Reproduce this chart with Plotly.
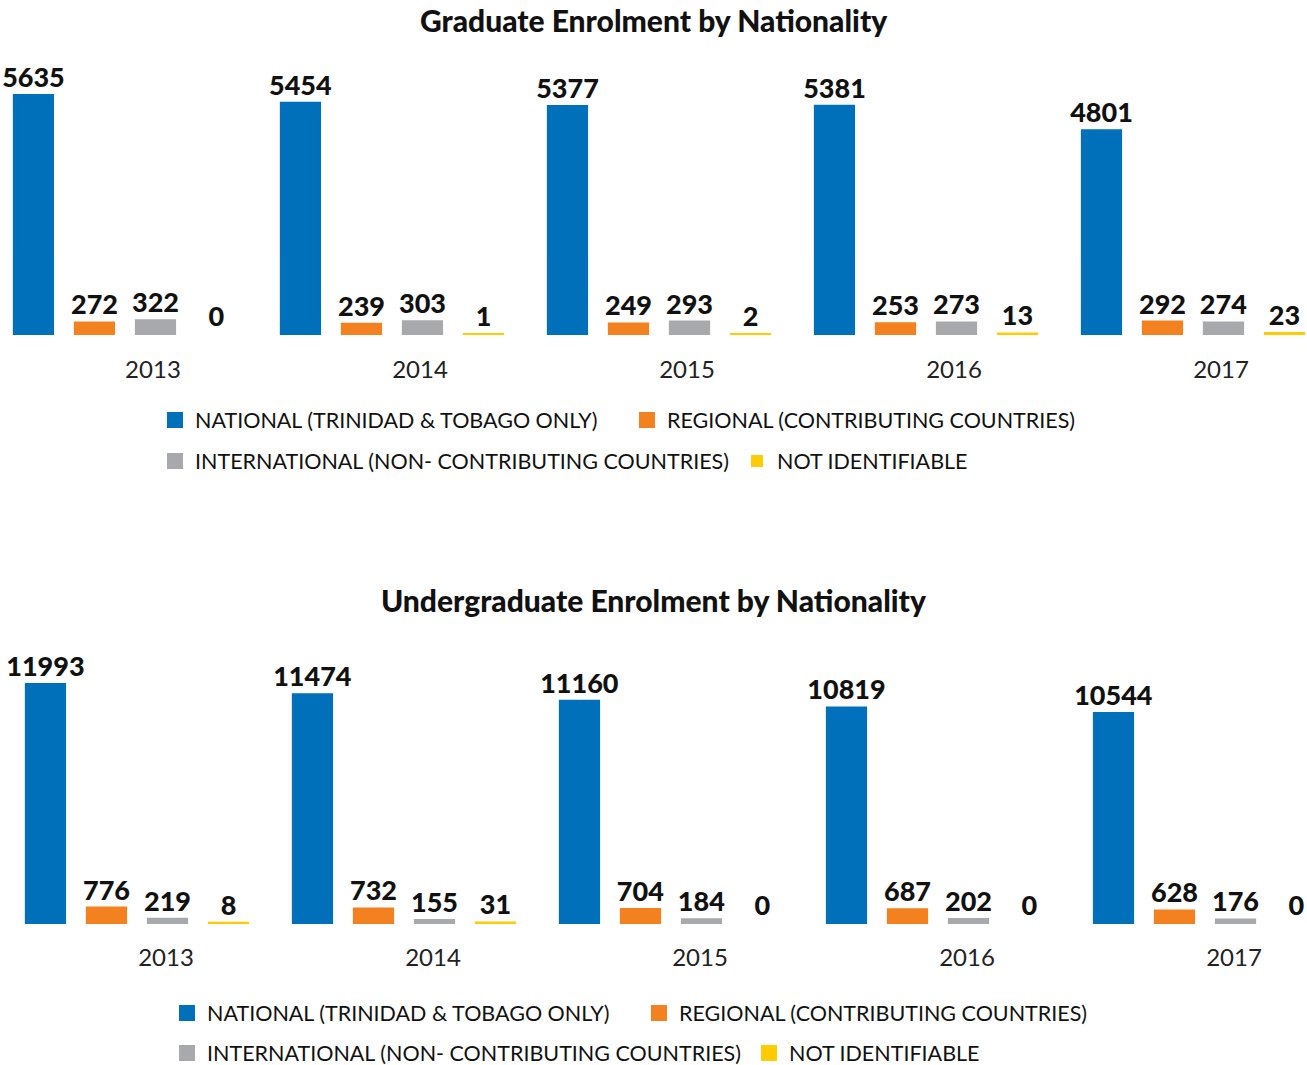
"""Graduate / undergraduate enrolment by nationality, 2013-2017."""

import plotly.graph_objects as go

YEARS = ["2013", "2014", "2015", "2016", "2017"]
SERIES = [
    "NATIONAL (TRINIDAD & TOBAGO ONLY)",
    "REGIONAL (CONTRIBUTING COUNTRIES)",
    "INTERNATIONAL (NON- CONTRIBUTING COUNTRIES)",
    "NOT IDENTIFIABLE",
]
COLORS = ["#0070BA", "#F48120", "#A7A9AC", "#FFCB05"]

GRAD_NATIONAL = [5635, 5454, 5377, 5381, 4801]
GRAD_REGIONAL = [272, 239, 249, 253, 292]
GRAD_INTERNATIONAL = [322, 303, 293, 273, 274]
GRAD_UNKNOWN = [0, 1, 2, 13, 23]

UG_NATIONAL = [11993, 11474, 11160, 10819, 10544]
UG_REGIONAL = [776, 732, 704, 687, 628]
UG_INTERNATIONAL = [219, 155, 184, 202, 176]
UG_UNKNOWN = [8, 31, 0, 0, 0]

FONT = "Lato, 'Open Sans', sans-serif"
INK = "#111111"
W, H = 1307, 1065

grad = [GRAD_NATIONAL, GRAD_REGIONAL, GRAD_INTERNATIONAL, GRAD_UNKNOWN]
ug = [UG_NATIONAL, UG_REGIONAL, UG_INTERNATIONAL, UG_UNKNOWN]


def _py(px):
    """Pixel row (from top) -> paper y."""
    return (H - px) / H


fig = go.Figure()

for data, ax, leg0 in [(grad, "", 1), (ug, "2", 5)]:
    for i, (name, vals) in enumerate(zip(SERIES, data)):
        k = leg0 + i
        fig.add_trace(
            go.Bar(
                x=YEARS,
                y=vals,
                name=name,
                # same-colour outline gives tiny counts a visible sliver;
                # zero counts get no outline so nothing is drawn
                marker=dict(
                    color=COLORS[i],
                    line=dict(color=COLORS[i], width=[4 if v > 0 else 0 for v in vals]),
                ),
                text=[str(v) for v in vals],
                textposition="outside",
                constraintext="none",
                cliponaxis=False,
                textfont=dict(family=FONT, size=27, color=INK, weight=900),
                xaxis="x" + ax,
                yaxis="y" + ax,
                legend="legend" if k == 1 else f"legend{k}",
            )
        )

axis_common = dict(
    showgrid=False,
    zeroline=False,
    showline=False,
    ticks="",
    tickfont=dict(family=FONT, size=24, color="#222222"),
)

fig.update_layout(
    width=W,
    height=H,
    showlegend=True,
    barmode="group",
    bargap=0.086,
    bargroupgap=0.39,
    paper_bgcolor="white",
    plot_bgcolor="white",
    # legends sit near the page edge; don't let them push the plot area
    margin=dict(l=0, r=0, t=0, b=0, autoexpand=False),
    xaxis=dict(
        **axis_common,
        domain=[0, 1],
        anchor="y",
        range=[-0.468, 4.427],
        ticklabelshift=28,
        ticklabelstandoff=18,
    ),
    yaxis=dict(
        domain=[_py(335), _py(335) + 275.7 / H],
        range=[0, 6500],
        visible=False,
    ),
    xaxis2=dict(
        **axis_common,
        domain=[0, 1],
        anchor="y2",
        range=[-0.513, 4.382],
        ticklabelshift=29,
        ticklabelstandoff=17,
    ),
    yaxis2=dict(
        domain=[_py(924), _py(924) + 269 / H],
        range=[0, 13500],
        visible=False,
    ),
    annotations=[
        dict(
            text="Graduate Enrolment by Nationality",
            x=0.5, y=_py(20), xref="paper", yref="paper",
            xanchor="center", yanchor="middle", showarrow=False,
            font=dict(family=FONT, size=30, color=INK, weight=900),
        ),
        dict(
            text="Undergraduate Enrolment by Nationality",
            x=0.5, y=_py(600), xref="paper", yref="paper",
            xanchor="center", yanchor="middle", showarrow=False,
            font=dict(family=FONT, size=30, color=INK, weight=900),
        ),
    ],
)

# One legend per entry so the two-row, uneven layout under each chart matches.
legend_pos = [
    (155, 420), (627, 420), (155, 461), (737, 461),
    (167, 1013), (639, 1013), (167, 1053), (749, 1053),
]
for k, (lx, ly) in enumerate(legend_pos, start=1):
    key = "legend" if k == 1 else f"legend{k}"
    fig.update_layout(
        {
            key: dict(
                x=lx / W,
                y=_py(ly),
                xanchor="left",
                yanchor="middle",
                orientation="h",
                bgcolor="rgba(0,0,0,0)",
                font=dict(family=FONT, size=21.5, color=INK),
                itemclick=False,
            )
        }
    )

fig.write_html(
    "out.html",
    config={"displayModeBar": False},
    post_script=(
        "document.documentElement.style.margin='0';"
        "document.documentElement.style.overflow='hidden';"
        "document.body.style.margin='0';"
        "document.body.style.overflow='hidden';"
    ),
)
